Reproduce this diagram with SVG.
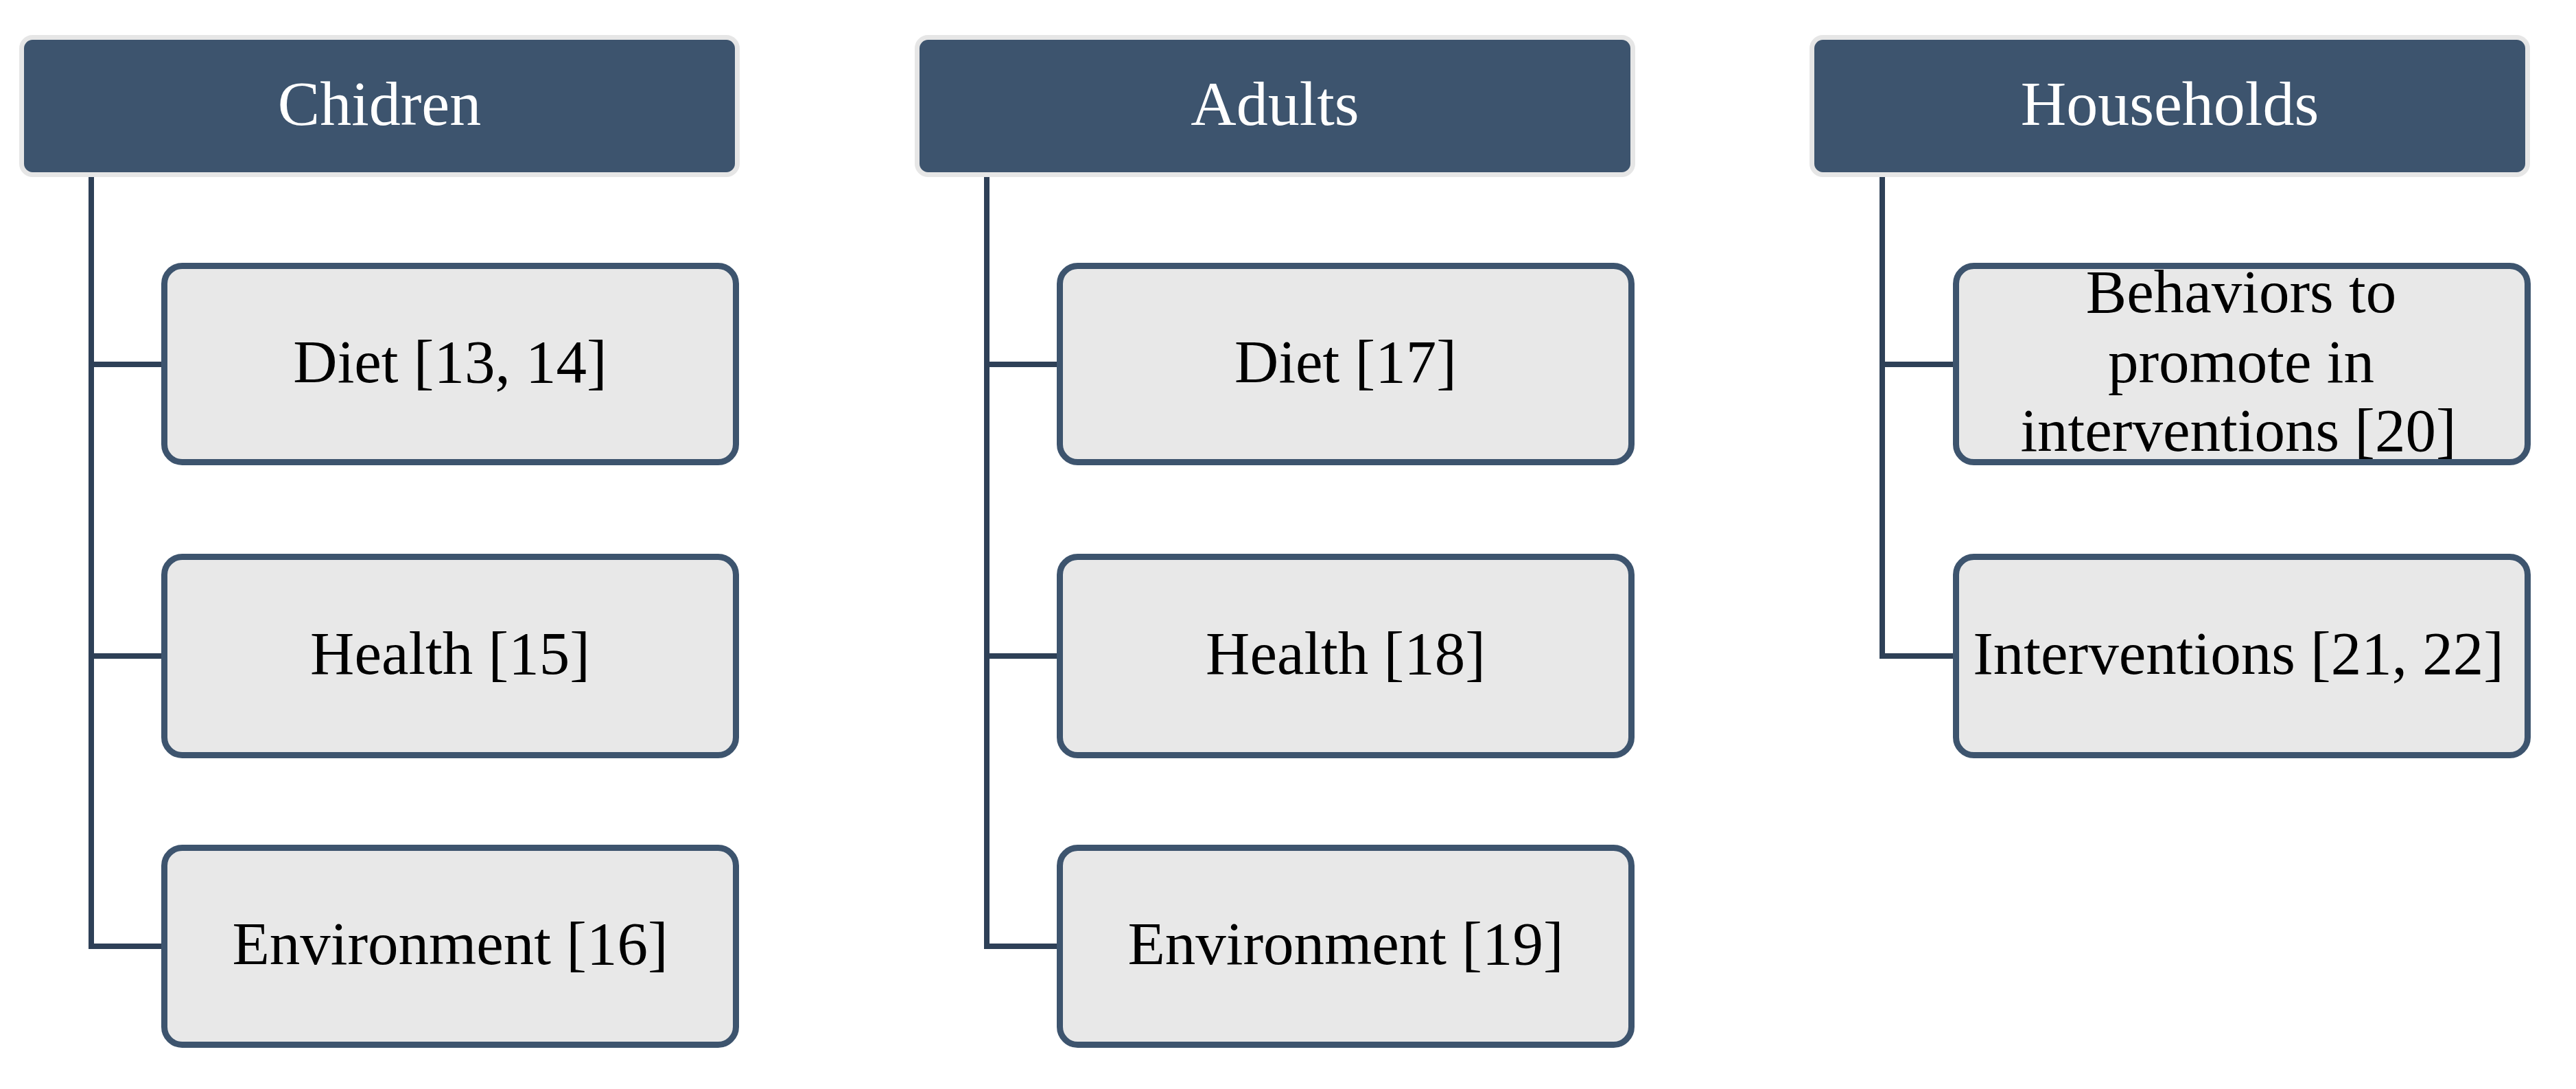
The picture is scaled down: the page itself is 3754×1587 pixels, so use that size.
<svg xmlns="http://www.w3.org/2000/svg" width="3754" height="1587" viewBox="0 0 3754 1587">
<style>
.hdr{fill:#3d546e;stroke:#e6e6e6;stroke-width:7}
.box{fill:#e8e8e8;stroke:#3d546e;stroke-width:9}
.ht{font-family:"Liberation Serif","Times New Roman",serif;font-size:92px;fill:#ffffff;text-anchor:middle}
.bt{font-family:"Liberation Serif","Times New Roman",serif;font-size:89px;fill:#000000;text-anchor:middle}
.con{fill:none;stroke:#2e4057;stroke-width:8;stroke-linejoin:miter}
</style>
<rect width="3754" height="1587" fill="#ffffff"/>
<g id="connectors">
<path class="con" d="M133 255 V1379 H240 M133 531 H240 M133 956 H240"/>
<path class="con" d="M1438 255 V1379 H1545 M1438 531 H1545 M1438 956 H1545"/>
<path class="con" d="M2743 255 V956 H2850 M2743 531 H2850"/>
</g>
<g id="h-children"><rect class="hdr" x="31.5" y="54.5" width="1043" height="200" rx="16"/><text class="ht" x="553" y="182">Chidren</text></g>
<g id="c-diet"><rect class="box" x="239.5" y="387.5" width="833" height="286" rx="26"/><text class="bt" x="656" y="557">Diet [13, 14]</text></g>
<g id="c-health"><rect class="box" x="239.5" y="811.5" width="833" height="289" rx="26"/><text class="bt" x="656" y="982">Health [15]</text></g>
<g id="c-env"><rect class="box" x="239.5" y="1235.5" width="833" height="287" rx="26"/><text class="bt" x="656" y="1405">Environment [16]</text></g>
<g id="h-adults"><rect class="hdr" x="1336.5" y="54.5" width="1043" height="200" rx="16"/><text class="ht" x="1858" y="182">Adults</text></g>
<g id="a-diet"><rect class="box" x="1544.5" y="387.5" width="833" height="286" rx="26"/><text class="bt" x="1961" y="557">Diet [17]</text></g>
<g id="a-health"><rect class="box" x="1544.5" y="811.5" width="833" height="289" rx="26"/><text class="bt" x="1961" y="982">Health [18]</text></g>
<g id="a-env"><rect class="box" x="1544.5" y="1235.5" width="833" height="287" rx="26"/><text class="bt" x="1961" y="1405">Environment [19]</text></g>
<g id="h-households"><rect class="hdr" x="2640.5" y="54.5" width="1043" height="200" rx="16"/><text class="ht" x="3162" y="182">Households</text></g>
<g id="hh-behaviors"><rect class="box" x="2850.5" y="387.5" width="833" height="286" rx="26"/><text class="bt" x="3266" y="455">Behaviors to</text><text class="bt" x="3266" y="557">promote in</text><text class="bt" x="3262" y="657">interventions [20]</text></g>
<g id="hh-interventions"><rect class="box" x="2850.5" y="811.5" width="833" height="289" rx="26"/><text class="bt" x="3262" y="982">Interventions [21, 22]</text></g>
</svg>
